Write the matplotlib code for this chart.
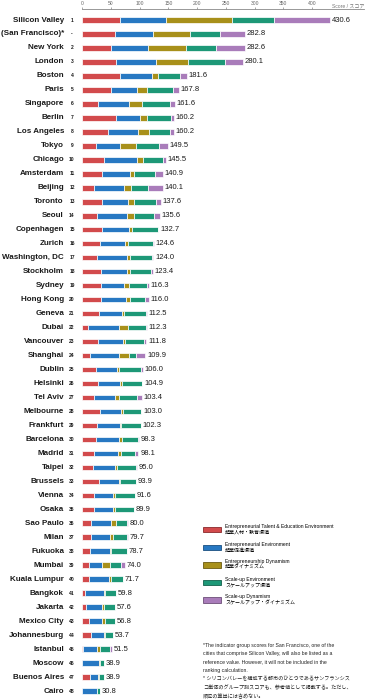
import matplotlib.pyplot as plt
import matplotlib.transforms as mtransforms
from matplotlib.patches import Patch
import numpy as np

plt.rcParams['font.family'] = ['Liberation Sans', 'Noto Sans CJK JP']

# data
cities = ['Silicon Valley', '(San Francisco)*', 'New York', 'London', 'Boston', 'Paris', 'Singapore',
          'Berlin', 'Los Angeles', 'Tokyo', 'Chicago', 'Amsterdam', 'Beijing', 'Toronto', 'Seoul',
          'Copenhagen', 'Zurich', 'Washington, DC', 'Stockholm', 'Sydney', 'Hong Kong', 'Geneva',
          'Dubai', 'Vancouver', 'Shanghai', 'Dublin', 'Helsinki', 'Tel Aviv', 'Melbourne',
          'Frankfurt', 'Barcelona', 'Madrid', 'Taipei', 'Brussels', 'Vienna', 'Osaka', 'Sao Paulo',
          'Milan', 'Fukuoka', 'Mumbai', 'Kuala Lumpur', 'Bangkok', 'Jakarta', 'Mexico City',
          'Johannesburg', 'Istanbul', 'Moscow', 'Buenos Aires', 'Cairo']
ranks = ['1', '-'] + [str(i) for i in range(2, 49)]
totals = [430.6, 282.8, 282.6, 280.1, 181.6, 167.8, 161.6, 160.2, 160.2, 149.5, 145.5, 140.9,
          140.1, 137.6, 135.6, 132.7, 124.6, 124.0, 123.4, 116.3, 116.0, 112.5, 112.3, 111.8,
          109.9, 106.0, 104.9, 103.4, 103.0, 102.3, 98.3, 98.1, 95.0, 93.9, 91.6, 89.9, 80.0,
          79.7, 78.7, 74.0, 71.7, 59.8, 57.6, 56.8, 53.7, 51.5, 38.9, 38.9, 30.8]

talent = [66.5, 58, 51, 59.5, 66.7, 51, 27.8, 58.5, 45.5, 23.5, 39, 35, 20.5, 35, 26.5, 35, 30.7,
          25.2, 32.8, 32.3, 33.8, 30.3, 9.9, 28.4, 14.5, 24.5, 28.2, 21.5, 30.7, 25.8, 25, 21, 19,
          29.5, 20.5, 20.5, 15.7, 15.1, 13.6, 11.6, 11.6, 5.4, 7.1, 12.4, 16.1, 2.6, 0, 13.9, 0]
environment = [80, 65, 63.5, 69, 55, 44.5, 54.5, 42.5, 52, 42.5, 55.8, 48.4, 52.5, 44.5, 52.5, 47,
               44, 53.3, 44.7, 40.4, 42, 39.5, 55, 42.3, 50.4, 37, 38, 36.2, 36.3, 39.8, 40, 41.8,
               38.7, 34.2, 33.4, 33.9, 35.4, 34.1, 34.2, 22.7, 35.9, 32.6, 28.5, 22.7, 21.5, 23.2,
               30.3, 13.9, 26.4]
dynamism = [115, 64, 65.5, 56.5, 10.4, 17.4, 22, 11.5, 18.5, 28.5, 10.4, 7, 12, 11.5, 11.2, 4.6,
            4.6, 5.2, 6.3, 9.4, 7.5, 2.9, 15.7, 4.6, 16, 2.3, 2.9, 7, 3.8, 2.2, 4.6, 5.7, 2.9, 1.7,
            2.8, 2.2, 8.1, 3.9, 2.2, 14.6, 2.9, 2.7, 2.8, 4.3, 1.6, 5.2, 1.7, 2.2, 0]
scaleup_env = [72.5, 52, 53.5, 63.5, 37.9, 44.5, 48.6, 42.5, 37, 40, 35, 36.2, 29, 38.2, 35.4,
               45.6, 43.5, 38, 35.6, 30.2, 25.7, 38.6, 30.7, 31.9, 13.3, 38.3, 35.8, 31.5, 31.2,
               34.5, 27.2, 24, 33.4, 28.5, 34.9, 33.3, 19.1, 25, 28.7, 18.1, 20.3, 19.1, 19.2,
               17.4, 14.5, 17, 6.9, 8.9, 4.4]
scaleup_dyn = [96.6, 43.8, 49.1, 31.6, 11.6, 10.4, 8.7, 5.2, 7.2, 15, 5.3, 14.3, 26.1, 8.4, 10,
               0.5, 1.8, 2.3, 4, 4, 7, 1.2, 1, 4.6, 15.7, 3.9, 0, 7.2, 1, 0, 1.5, 5.6, 1, 0, 0, 0,
               1.7, 1.6, 0, 7, 1, 0, 0, 0, 0, 3.5, 0, 0, 0]

series_names = ['Entrepreneurial Talent & Education Environment\n起業人材・教育環境',
                'Entrepreneurial Environment\n起業促進環境',
                'Entrepreneurship Dynamism\n起業ダイナミズム',
                'Scale-up Environment\nスケールアップ環境',
                'Scale-up Dynamism\nスケールアップ・ダイナミズム']
colors = ['#d24a4c', '#2778c2', '#a8901a', '#1d9877', '#a97cba']
edges = ['#8a2a2c', '#1a4f80', '#6a5a10', '#12604b', '#6d4f78']

W, H = 370, 700
fig = plt.figure(figsize=(3.7, 7), dpi=100)
top_px, row0_px, pitch = 9, 20, 13.98
ax = fig.add_axes([82 / W, 0, (364 - 82) / W, (H - top_px) / H])

y = np.arange(len(cities))
left = np.zeros(len(cities))
for vals, col in zip([talent, environment, dynamism, scaleup_env, scaleup_dyn], colors):
    vals = np.array(vals)
    ax.barh(y, vals, left=left, height=0.4, color=col, edgecolor='white', linewidth=0.5)
    left += vals

ax.set_xlim(0, 490)
ax.set_ylim((H - row0_px) / pitch, (top_px - row0_px) / pitch)

for s in ['right', 'bottom', 'left']:
    ax.spines[s].set_visible(False)
ax.spines['top'].set_color('#888888')
ax.spines['top'].set_linewidth(0.6)
ax.xaxis.tick_top()
ax.set_xticks(np.arange(0, 401, 50))
ax.tick_params(axis='x', labelsize=3.6, colors='#666666', length=1.5, width=0.4, pad=0.8)
ax.set_yticks([])

ax.text(1.0, 1.0, 'Score / スコア', transform=ax.transAxes, fontsize=3.6, color='#777777',
        ha='right', va='bottom')

trans = mtransforms.blended_transform_factory(fig.transFigure, ax.transData)
for i in range(len(cities)):
    fig.text(64 / W, y[i], cities[i], transform=trans, ha='right', va='center',
             fontsize=5.8, fontweight='bold', color='#1a1a1a')
    fig.text(72 / W, y[i], ranks[i], transform=trans, ha='center', va='center',
             fontsize=3.6, fontweight='bold', color='#1a1a1a')
    ax.text(totals[i] + 3, y[i], '%.1f' % totals[i], ha='left', va='center', fontsize=5.5,
            color='#1a1a1a')

handles = [Patch(facecolor=c, edgecolor=e, linewidth=0.6, label=n)
           for c, e, n in zip(colors, edges, series_names)]
fig.legend(handles=handles, loc='upper left', bbox_to_anchor=(201 / W, 1 - 522 / H),
           frameon=False, fontsize=3.6, handlelength=3.6, handleheight=1.3,
           labelspacing=1.35, handletextpad=0.8, borderaxespad=0)

note = ('*The indicator group scores for San Francisco, one of the\n'
        'cities that comprise Silicon Valley, will also be listed as a\n'
        'reference value. However, it will not be included in the\n'
        'ranking calculation.\n'
        '* シリコンバレーを構成する都市のひとつであるサンフランシス\n'
        'コ単体のグループ別スコアも、参考値として掲載する。ただし、\n'
        '順位の算出には含めない。')
fig.text(203 / W, 1 - 643 / H, note, fontsize=3.7, va='top', ha='left', linespacing=1.8,
         color='#222222')

fig.savefig('out.png', dpi=100)
